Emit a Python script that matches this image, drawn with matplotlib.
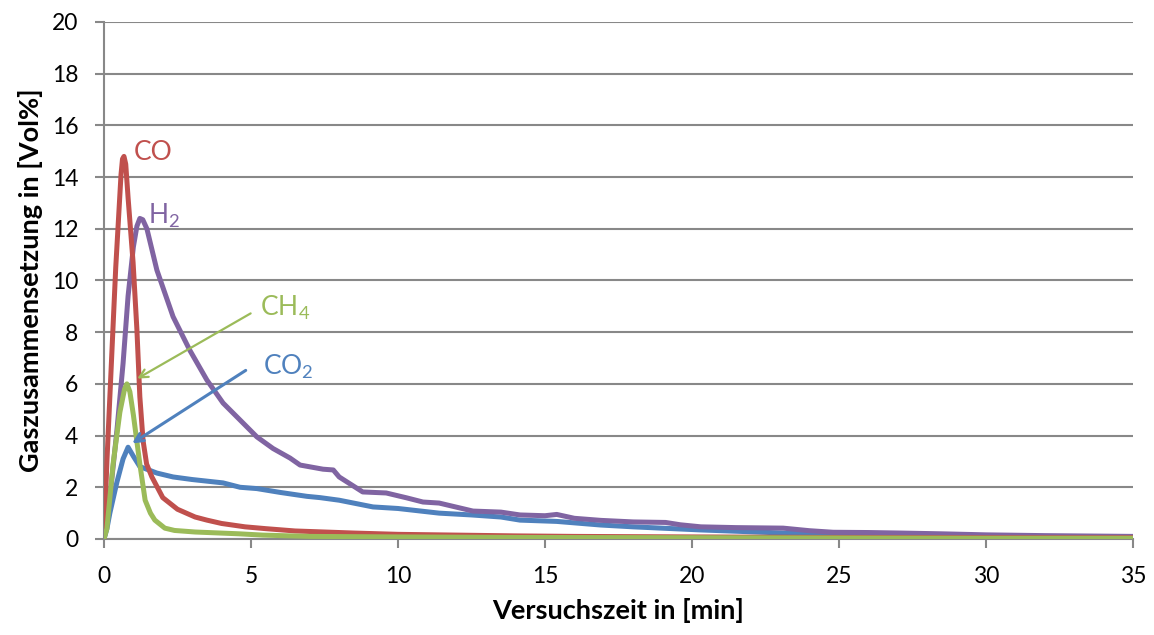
import matplotlib
matplotlib.use("Agg")
import matplotlib.pyplot as plt

plt.rcParams["font.family"] = ["Lato", "DejaVu Sans"]
plt.rcParams["mathtext.fontset"] = "custom"
plt.rcParams["mathtext.rm"] = "Lato"
plt.rcParams["mathtext.it"] = "Lato"
plt.rcParams["mathtext.bf"] = "Lato:bold"
plt.rcParams["mathtext.default"] = "regular"

# Gas composition over test time (Vol%)
t_co = [0, 0.1, 0.2, 0.3, 0.4, 0.5, 0.58, 0.63, 0.68, 0.74, 0.82, 0.99, 1.12, 1.22,
        1.33, 1.45, 1.63, 2.0, 2.5, 3.1, 3.5, 4.0, 4.8, 5.5, 6.5, 7.5, 8.5, 10, 12,
        14, 16, 20, 25, 30, 35]
co = [0, 3.0, 5.5, 8.0, 10.5, 12.5, 14.1, 14.7, 14.8, 14.5, 13.2, 10.7, 8.1, 5.5,
      3.8, 2.9, 2.4, 1.6, 1.15, 0.85, 0.73, 0.6, 0.47, 0.4, 0.31, 0.27, 0.23, 0.18,
      0.15, 0.12, 0.1, 0.08, 0.06, 0.05, 0.05]

t_h2 = [0, 0.1, 0.2, 0.44, 0.65, 0.82, 1.0, 1.12, 1.22, 1.32, 1.46, 1.8, 2.35, 2.92,
        3.5, 4.05, 4.63, 5.2, 5.75, 6.33, 6.67, 7.45, 7.8, 8.0, 8.8, 9.6, 10.3,
        10.85, 11.4, 12.55, 13.5, 14.15, 15.0, 15.4, 16.0, 16.9, 18.0, 19.1, 19.6,
        20.3, 21.5, 23.1, 24.0, 24.8, 26.0, 27.1, 28.5, 30, 32, 35]
h2 = [0, 0.6, 1.6, 4.2, 6.8, 9.4, 11.3, 12.1, 12.4, 12.35, 12.0, 10.4, 8.6, 7.3,
      6.15, 5.26, 4.6, 3.95, 3.5, 3.13, 2.86, 2.7, 2.67, 2.4, 1.82, 1.78, 1.59,
      1.43, 1.39, 1.08, 1.04, 0.93, 0.9, 0.95, 0.8, 0.72, 0.66, 0.64, 0.55, 0.47,
      0.44, 0.42, 0.32, 0.26, 0.25, 0.23, 0.2, 0.16, 0.13, 0.1]

t_ch4 = [0, 0.1, 0.31, 0.54, 0.7, 0.78, 0.88, 1.0, 1.22, 1.4, 1.58, 1.73, 2.07, 2.4,
         3.1, 4.6, 5.4, 7, 10, 14, 20, 25, 30, 35]
ch4 = [0, 0.4, 2.9, 4.9, 5.8, 6.0, 5.7, 4.8, 2.9, 1.5, 1.0, 0.73, 0.42, 0.33,
       0.27, 0.2, 0.15, 0.1, 0.08, 0.06, 0.05, 0.04, 0.03, 0.03]

t_co2 = [0, 0.1, 0.2, 0.44, 0.65, 0.82, 1.0, 1.22, 1.8, 2.35, 3.0, 4.05, 4.63, 5.2,
         6.0, 6.9, 7.35, 8.0, 9.15, 10, 11.4, 12.5, 13.5, 14.15, 15.4, 16.9, 18.0,
         20.3, 21.5, 23.1, 25, 27, 30, 32, 35]
co2 = [0, 0.4, 1.0, 2.2, 3.1, 3.55, 3.2, 2.8, 2.55, 2.4, 2.3, 2.17, 2.0, 1.95,
       1.8, 1.65, 1.6, 1.5, 1.24, 1.18, 1.0, 0.93, 0.85, 0.73, 0.68, 0.54, 0.47,
       0.35, 0.3, 0.23, 0.17, 0.12, 0.1, 0.07, 0.05]

x_ticks = [0, 5, 10, 15, 20, 25, 30, 35]
y_ticks = [0, 2, 4, 6, 8, 10, 12, 14, 16, 18, 20]

c_co = "#C0504D"
c_h2 = "#8064A2"
c_ch4 = "#9BBB59"
c_co2 = "#4F81BD"
grid_c = "#888888"

fig = plt.figure(figsize=(11.54, 6.35), dpi=100)
ax = fig.add_axes([0.0901, 0.1512, 0.8917, 0.8142])

lw = 3.6
ax.plot(t_co2, co2, color=c_co2, lw=lw, solid_joinstyle="round", zorder=3)
ax.plot(t_h2, h2, color=c_h2, lw=lw, solid_joinstyle="round", zorder=4)
ax.plot(t_co, co, color=c_co, lw=lw, solid_joinstyle="round", zorder=5)
ax.plot(t_ch4, ch4, color=c_ch4, lw=lw, solid_joinstyle="round", zorder=6)

ax.set_xlim(0, 35)
ax.set_ylim(0, 20)
ax.set_xticks(x_ticks)
ax.set_yticks(y_ticks)
ax.yaxis.grid(True, color=grid_c, lw=1.5, zorder=0)
ax.set_axisbelow(True)
for s in ("top", "right"):
    ax.spines[s].set_visible(False)
for s in ("left", "bottom"):
    ax.spines[s].set_color(grid_c)
    ax.spines[s].set_linewidth(1.5)
ax.tick_params(axis="both", direction="out", length=6.5, width=1.5, color=grid_c,
               labelsize=16.5)
ax.tick_params(axis="x", pad=13)
ax.tick_params(axis="y", pad=12)

ax.set_xlabel("Versuchszeit in [min]", fontsize=19.5, fontweight="bold", labelpad=8)
ax.set_ylabel("Gaszusammensetzung in [Vol%]", fontsize=19.5, fontweight="bold",
              labelpad=6)

# series labels
ax.text(1.0, 14.95, "CO", color=c_co, fontsize=19, ha="left", va="center")
ax.text(1.5, 12.5, "H$_2$", color=c_h2, fontsize=19, ha="left", va="center")
ax.text(5.3, 8.95, "CH$_4$", color=c_ch4, fontsize=19, ha="left", va="center")
ax.text(5.4, 6.65, "CO$_2$", color=c_co2, fontsize=19, ha="left", va="center")

ax.annotate("", xy=(1.05, 6.15), xytext=(5.07, 8.78),
            arrowprops=dict(arrowstyle="->,head_length=0.6,head_width=0.3",
                            color=c_ch4, lw=1.6), zorder=7)
ax.annotate("", xy=(0.88, 3.64), xytext=(4.9, 6.58),
            arrowprops=dict(arrowstyle="->,head_length=0.6,head_width=0.3",
                            color=c_co2, lw=2.2), zorder=7)

fig.savefig("out.png", dpi=100)
